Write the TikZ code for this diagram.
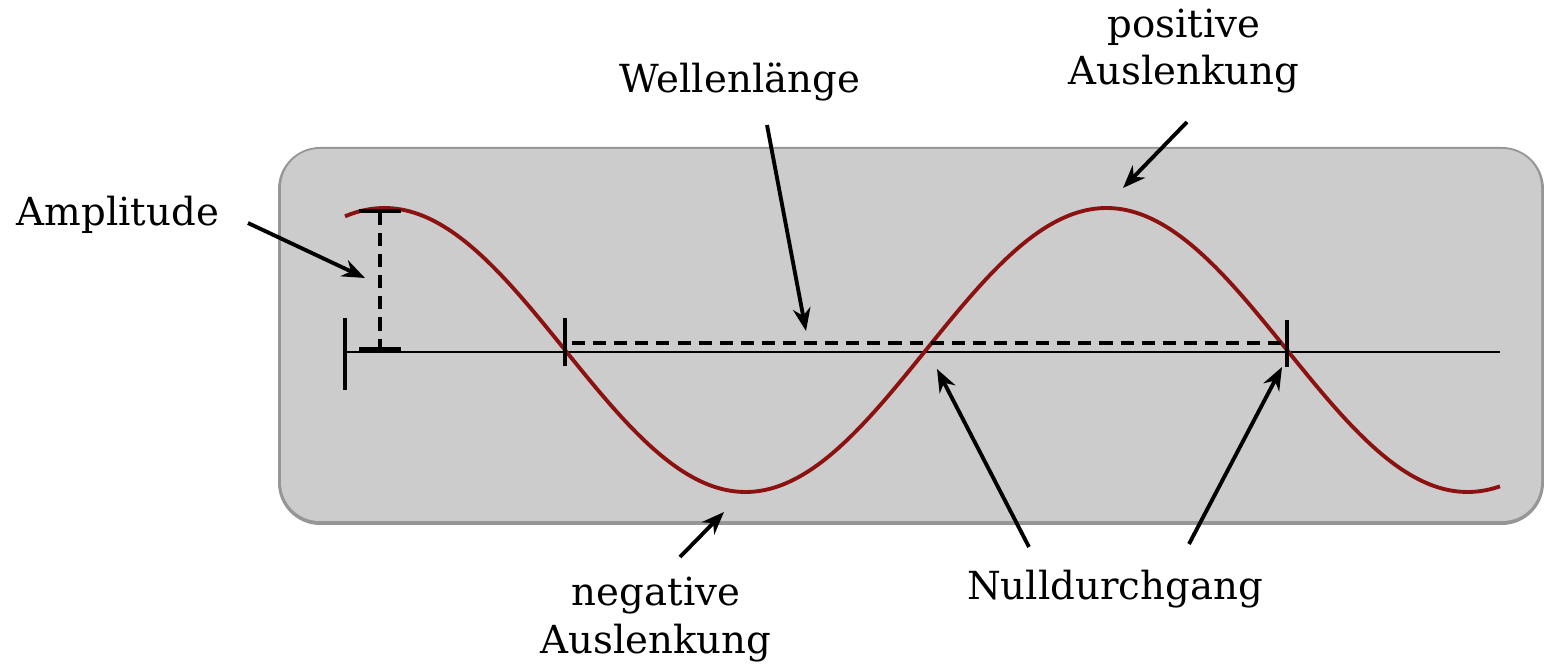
\documentclass[tikz,border=0pt]{standalone}
\usepackage{fontspec}
\setmainfont{DejaVu Serif}
\usetikzlibrary{arrows.meta,positioning}
\definecolor{wGrau}{RGB}{204,204,204}
\definecolor{wRand}{RGB}{150,150,150}
\definecolor{wRot}{RGB}{140,18,18}

\begin{document}
\begin{tikzpicture}[
	x=0.01cm, y=-0.01cm,
	>={Stealth[length=6.5pt,width=5pt]},
	lbl/.style={font=\fontsize{11}{13.4}\selectfont, align=center, inner sep=0pt},
	pfeil/.style={->, line width=1.1pt},
	mass/.style={dash pattern=on 3.7pt off 2.3pt, line width=1.1pt},
	marke/.style={line width=1.1pt}
	]
	\useasboundingbox (0,0) rectangle (1544,664);

	% Hintergrund
	\fill[wRand, rounded corners=12pt] (278,147) rectangle (1544,525);
	\fill[wGrau, rounded corners=11pt] (281,149) rectangle (1541,521);

	% Achse und Welle
	\coordinate (nullA) at (345,352);
	\coordinate (nullE) at (1500,352);
	\draw[line width=0.6pt] (nullA) -- (nullE);
	\draw[marke] (345,318) -- (345,390);
	\draw[wRot, line width=1.1pt] plot[domain=345:1500, samples=160, smooth]
		(\x, {350+142*sin(0.49861*(\x-565))});

	% Amplitude
	\draw[mass] (380,212) -- (380,349);
	\draw[marke] (359,211) -- (401,211);
	\draw[marke] (359,349) -- (401,349);

	% Wellenlaenge
	\draw[mass] (572,343) -- (1283,343);
	\draw[marke] (565,318) -- (565,366);
	\draw[marke] (1287,320) -- (1287,367);

	% Beschriftungen
	\node[lbl, anchor=base] (amp) at (118,226) {Amplitude};
	\node[lbl, anchor=base] (wl) at (740,93) {Wellenlänge};
	\node[lbl, anchor=base] (pos) at (1184,85) {positive\\Auslenkung};
	\node[lbl, anchor=base] (neg) at (656,653) {negative\\Auslenkung};
	\node[lbl, anchor=base] (null) at (1115,600) {Nulldurchgang};

	% Pfeile
	\coordinate (ampA) at (248,223);  \coordinate (ampZ) at (365,278);
	\coordinate (wlA) at (767,125);   \coordinate (wlZ) at (806,331);
	\coordinate (posA) at (1187,122); \coordinate (posZ) at (1123,188);
	\coordinate (negA) at (680,557);  \coordinate (negZ) at (724,512);
	\coordinate (nuA) at (1029,547);  \coordinate (nuZ) at (937,369);
	\coordinate (nuB) at (1189,544);  \coordinate (nuY) at (1282,367);

	\foreach \a/\z in {ampA/ampZ, wlA/wlZ, posA/posZ, negA/negZ, nuA/nuZ, nuB/nuY}
	\draw[pfeil] (\a) -- (\z);
\end{tikzpicture}
\end{document}
